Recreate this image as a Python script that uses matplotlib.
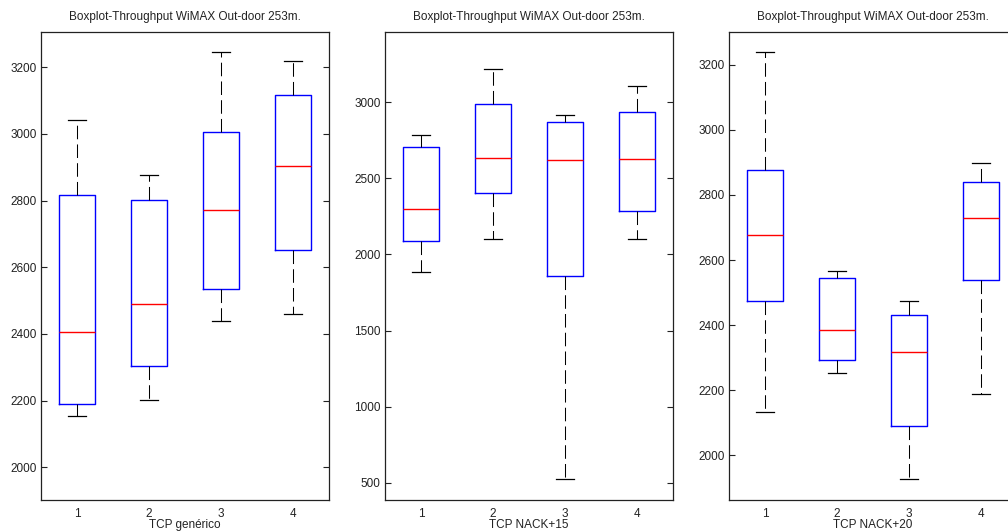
import matplotlib
matplotlib.use('Agg')
import matplotlib.pyplot as plt

plt.rcParams['font.family'] = ['Liberation Sans', 'DejaVu Sans']

titulo = 'Boxplot-Throughput WiMAX Out-door 253m.'
categorias = [1, 2, 3, 4]

# TCP generico
gen_whislo = [2155, 2203, 2438, 2459]
gen_q1 = [2190, 2303, 2534, 2652]
gen_med = [2407, 2489, 2773, 2905]
gen_q3 = [2816, 2803, 3006, 3118]
gen_whishi = [3042, 2876, 3245, 3220]

# TCP NACK+15
n15_whislo = [1884, 2104, 527, 2104]
n15_q1 = [2086, 2403, 1861, 2285]
n15_med = [2296, 2632, 2621, 2626]
n15_q3 = [2704, 2991, 2869, 2935]
n15_whishi = [2786, 3218, 2915, 3109]

# TCP NACK+20
n20_whislo = [2132, 2252, 1928, 2188]
n20_q1 = [2475, 2293, 2089, 2538]
n20_med = [2678, 2386, 2317, 2730]
n20_q3 = [2878, 2546, 2432, 2841]
n20_whishi = [3239, 2565, 2473, 2899]

xlabels = ['TCP genérico', 'TCP NACK+15', 'TCP NACK+20']
yticks = [list(range(2000, 3201, 200)), list(range(500, 3001, 500)), list(range(2000, 3201, 200))]
ylims = [(1902, 3307), (386, 3466), (1863, 3302)]


def make_stats(lo, q1, med, q3, hi):
    stats = []
    for i in range(len(med)):
        stats.append({'whislo': lo[i], 'q1': q1[i], 'med': med[i],
                      'q3': q3[i], 'whishi': hi[i], 'fliers': []})
    return stats


grupos = [
    make_stats(gen_whislo, gen_q1, gen_med, gen_q3, gen_whishi),
    make_stats(n15_whislo, n15_q1, n15_med, n15_q3, n15_whishi),
    make_stats(n20_whislo, n20_q1, n20_med, n20_q3, n20_whishi),
]

fig = plt.figure(figsize=(10.08, 5.32), dpi=100)
lefts = [41, 385, 729]

for k in range(3):
    ax = fig.add_axes([lefts[k] / 1008, 32 / 532, 288 / 1008, 468.5 / 532])
    ax.bxp(grupos[k], positions=categorias, widths=0.5, showfliers=False,
           boxprops=dict(color='blue', linewidth=1),
           medianprops=dict(color='red', linewidth=1),
           whiskerprops=dict(color='black', linewidth=0.75, linestyle=(0, (13, 5))),
           capprops=dict(color='black', linewidth=0.9))
    ax.set_xlim(0.5, 4.5)
    ax.set_ylim(*ylims[k])
    ax.set_yticks(yticks[k])
    ax.set_xticks(categorias)
    ax.set_xticklabels([str(c) for c in categorias])
    ax.tick_params(axis='y', direction='in', right=True, length=4.5, width=0.8,
                   labelsize=8.5, pad=3, colors='#222222')
    ax.tick_params(axis='x', length=0, labelsize=8.5, pad=6, colors='#222222')
    for s in ax.spines.values():
        s.set_linewidth(0.9)
        s.set_color('#222222')
    ax.set_xlabel(xlabels[k], fontsize=8.5, labelpad=-1, color='#222222')
    ax.set_title(titulo, fontsize=8.5, pad=8, color='#222222')

fig.savefig('out.png', dpi=100)
